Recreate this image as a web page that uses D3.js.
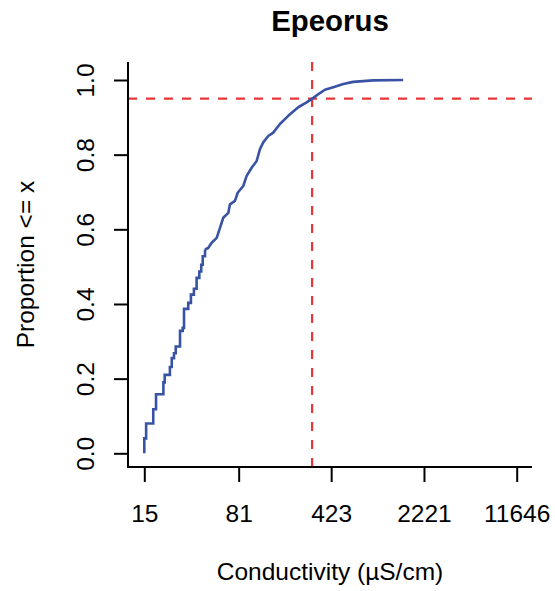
<!DOCTYPE html>
<html>
<head>
<meta charset="utf-8">
<script src="https://cdn.jsdelivr.net/npm/d3@7"></script>
<style>
  html, body { margin: 0; padding: 0; background: #fff; }
  svg { display: block; }
  text { font-family: "Liberation Sans", Arial, sans-serif; fill: #000; }
</style>
</head>
<body>
<div id="chart"></div>
<script>
// ---- data ----
const title = "Epeorus";
const xTitle = "Conductivity (µS/cm)";
const yTitle = "Proportion <= x";
const conductivity = [15, 15, 15.5, 17.6, 18.5, 21.1, 21.6, 23.7, 24.5, 25.5, 26.3, 28.4, 29.8, 30.5, 32.9,
  34.5, 36.4, 38.2, 40.1, 41.5, 42.6, 44.4, 47.0, 50.0, 54.7, 58.0, 61.5, 67.3, 69.3, 75.8,
  79.6, 87.9, 93.4, 102.1, 111.7, 118.5, 125.7, 137.4, 150.3, 169.3, 196.5, 234.8, 272.9, 306.9, 346,
  378, 452, 525, 627, 897, 1531];
const proportion = [0, 0.04, 0.08, 0.118, 0.158, 0.19, 0.21, 0.231, 0.255, 0.268, 0.286, 0.328, 0.336, 0.387, 0.403,
  0.425, 0.441, 0.47, 0.487, 0.505, 0.528, 0.546, 0.55, 0.564, 0.577, 0.604, 0.631, 0.644, 0.667, 0.676,
  0.698, 0.716, 0.743, 0.765, 0.783, 0.815, 0.833, 0.85, 0.859, 0.882, 0.904, 0.927, 0.94, 0.952, 0.965,
  0.974, 0.982, 0.989, 0.995, 0.999, 1.0];
const xTicks = [15, 81, 423, 2221, 11646];
const yTicks = [0, 0.2, 0.4, 0.6, 0.8, 1.0];
const refProportion = 0.95;
const refConductivity = 301;
const stepCount = 22; // first points drawn as visible steps

// ---- layout ----
const W = 555, H = 591;
const plot = { left: 128, right: 532, top: 62, bottom: 467 };
const x = d3.scaleLog().domain([15, 11646]).range([144.3, 516.7]);
const y = d3.scaleLinear().domain([0, 1]).range([453.3, 80]);

const svg = d3.select("#chart").append("svg").attr("width", W).attr("height", H);

const data = conductivity.map((c, i) => ({ c, p: proportion[i] }));

// clip
svg.append("clipPath").attr("id", "clip").append("rect")
  .attr("x", plot.left).attr("y", plot.top)
  .attr("width", plot.right - plot.left).attr("height", plot.bottom - plot.top);

const g = svg.append("g").attr("clip-path", "url(#clip)");

// reference lines
const red = "#ea3438";
g.append("line")
  .attr("x1", plot.left).attr("x2", plot.right)
  .attr("y1", y(refProportion)).attr("y2", y(refProportion))
  .attr("stroke", red).attr("stroke-width", 2.2).attr("stroke-dasharray", "9,9");
g.append("line")
  .attr("x1", x(refConductivity)).attr("x2", x(refConductivity))
  .attr("y1", plot.top).attr("y2", plot.bottom)
  .attr("stroke", red).attr("stroke-width", 2.2).attr("stroke-dasharray", "9,9");

// curve
const blue = "#3953a4";
const stepLine = d3.line().x(d => x(d.c)).y(d => y(d.p)).curve(d3.curveStepAfter);
const smoothLine = d3.line().x(d => x(d.c)).y(d => y(d.p));
g.append("path").datum(data.slice(0, stepCount))
  .attr("d", stepLine).attr("fill", "none").attr("stroke", blue).attr("stroke-width", 2.6);
g.append("path").datum(data.slice(stepCount - 1))
  .attr("d", smoothLine).attr("fill", "none").attr("stroke", blue).attr("stroke-width", 2.6)
  .attr("stroke-linejoin", "round");

// frame (L shape)
svg.append("path")
  .attr("d", `M${plot.left},${plot.top}V${plot.bottom}H${plot.right}`)
  .attr("fill", "none").attr("stroke", "#000").attr("stroke-width", 2);

// axes
const fs = 24.5;
const xAxis = d3.axisBottom(x).tickValues(xTicks).tickFormat(d => String(d)).tickSize(15).tickSizeOuter(0).tickPadding(0);
const xg = svg.append("g").attr("transform", `translate(0,${plot.bottom})`).call(xAxis);
xg.select(".domain").remove();
xg.selectAll(".tick line").attr("stroke", "#000").attr("stroke-width", 2);
xg.selectAll(".tick text").attr("font-size", fs).attr("font-family", "Liberation Sans, Arial, sans-serif")
  .attr("fill", "#000").attr("y", 55).attr("dy", 0);

const yAxis = d3.axisLeft(y).tickValues(yTicks).tickFormat(d3.format(".1f")).tickSize(15).tickSizeOuter(0);
const yg = svg.append("g").attr("transform", `translate(${plot.left + 1},0)`).call(yAxis);
yg.select(".domain").remove();
yg.selectAll(".tick line").attr("stroke", "#000").attr("stroke-width", 2);
yg.selectAll(".tick text").remove();
yg.selectAll(".tick").append("text")
  .attr("transform", "translate(-35,0) rotate(-90)")
  .attr("text-anchor", "middle").attr("font-size", fs).attr("fill", "#000")
  .attr("font-family", "Liberation Sans, Arial, sans-serif")
  .text(d => d3.format(".1f")(d));

// titles
svg.append("text").attr("x", 330).attr("y", 31).attr("text-anchor", "middle")
  .attr("font-size", 29.4).attr("font-weight", "bold").text(title);
svg.append("text").attr("x", 330).attr("y", 580).attr("text-anchor", "middle")
  .attr("font-size", fs).text(xTitle);
svg.append("text").attr("transform", `translate(34,${(plot.top + plot.bottom) / 2}) rotate(-90)`)
  .attr("text-anchor", "middle").attr("font-size", fs).text(yTitle);
</script>
</body>
</html>
